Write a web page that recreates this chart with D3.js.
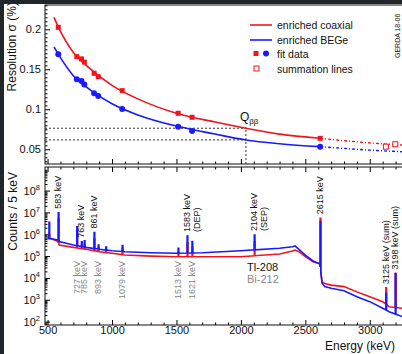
<!DOCTYPE html>
<html>
<head>
<meta charset="utf-8">
<script src="https://cdn.jsdelivr.net/npm/d3@7"></script>
<style>
  body { margin: 0; background: #fff; }
  svg { display: block; font-family: "Liberation Sans", Arial, sans-serif; }
</style>
</head>
<body>
<div id="chart"></div>
<script>
// resolution fit points (energy keV, sigma %)
const fitEnergies = [583, 727, 763, 785, 861, 893, 1079, 1513, 1621, 2615];
const coaxRes = [0.2025, 0.1658, 0.163, 0.159, 0.145, 0.1408, 0.1233, 0.095, 0.090, 0.0637];
const begeRes = [0.1688, 0.1375, 0.1354, 0.131, 0.12, 0.1166, 0.1004, 0.0783, 0.0729, 0.0533];
const sumEnergies = [3125, 3198];
const sumRes = [0.0533, 0.0563];

// fit curves
const curveE = [550, 583, 700, 800, 1000, 1200, 1500, 1800, 2039, 2300, 2615];
const coaxCurve = [0.215, 0.203, 0.171, 0.155, 0.130, 0.113, 0.095, 0.084, 0.0763, 0.069, 0.0637];
const begeCurve = [0.178, 0.169, 0.142, 0.128, 0.107, 0.093, 0.079, 0.069, 0.0617, 0.057, 0.0533];
const extE = [2615, 3000, 3250];
const coaxExt = [0.0637, 0.058, 0.0553];
const begeExt = [0.0533, 0.049, 0.047];
const qbb = 2039;

// calibration spectrum continuum (counts / 5 keV)
const contE = [500, 580, 590, 700, 800, 900, 1000, 1100, 1300, 1500, 1700, 2000, 2300, 2400, 2420, 2450, 2500, 2560, 2600, 2612, 2630, 2650, 2700, 2800, 2900, 3000, 3100, 3150, 3250];
const begeCont = [6.5e5, 5.5e5, 4.6e5, 3.2e5, 2.5e5, 2.05e5, 1.77e5, 1.59e5, 1.43e5, 1.34e5, 1.43e5, 1.77e5, 2.28e5, 2.7e5, 2.9e5, 2.05e5, 1.12e5, 6.0e4, 4.7e4, 4.5e4, 5.7e3, 4.0e3, 3.35e3, 2.6e3, 1.38e3, 820, 410, 285, 170];
const coaxCont = [7.5e5, 4.6e5, 3.2e5, 2.5e5, 2.05e5, 1.59e5, 1.34e5, 1.12e5, 1.0e5, 9.4e4, 9.4e4, 9.4e4, 1.25e5, 1.7e5, 1.9e5, 1.59e5, 9.4e4, 5.5e4, 4.7e4, 4.5e4, 6.7e3, 5.5e3, 4.7e3, 4.0e3, 2.3e3, 1.38e3, 820, 480, 410];

// peaks: energy, top counts
const peakE = [511, 583, 727, 763, 785, 861, 893, 952, 1079, 1513, 1583, 1621, 2104, 2615, 3125, 3198];
const begePeak = [3.5e6, 9.7e6, 2.2e6, 4.5e5, 5e5, 1.2e6, 3.2e5, 2.6e5, 3.0e5, 2.3e5, 8.3e5, 4.6e5, 9.2e5, 3.8e6, 2.0e3, 1.6e4];
const coaxPeak = [1.0e6, 5e6, 1.2e6, 3e5, 3.2e5, 6e5, 2.4e5, 1.9e5, 2.2e5, 1.5e5, 4e5, 2.5e5, 4.5e5, 5.4e6, 3.5e3, 1.6e4];

// peak labels
const tlLabels = [["583 keV"], ["763 keV"], ["861 keV"], ["1583 keV", "(DEP)"], ["2104 keV", "(SEP)"], ["2615 keV"], ["3125 keV (sum)"], ["3198 keV (sum)"]];
const tlEnergies = [583, 763, 861, 1583, 2104, 2615, 3125, 3198];
const biLabels = ["727 keV", "785 keV", "893 keV", "1079 keV", "1513 keV", "1621 keV"];
const biEnergies = [727, 785, 893, 1079, 1513, 1621];

const xMajor = [500, 1000, 1500, 2000, 2500, 3000];
const resTicks = [0.05, 0.1, 0.15, 0.2];
const countTicks = [1e2, 1e3, 1e4, 1e5, 1e6, 1e7, 1e8];

const W = 402, H = 354;
const RED = "#f0141e", BLUE = "#1a1aff";

const svg = d3.select("#chart").append("svg").attr("width", W).attr("height", H);

const x = d3.scaleLinear().domain([480, 3250]).range([45, 402]);
const yRes = d3.scaleLinear().domain([0.0316, 0.2304]).range([164, 5]);
const yCnt = d3.scaleLog().domain([70, 1.2e9]).range([325, 167]);

const minorX = d3.range(500, 3300, 100).filter(v => v % 500 !== 0);

// ---------- top panel ----------
const topG = svg.append("g");

topG.append("g").attr("transform", "translate(0,164)")
  .call(d3.axisBottom(x).tickValues(xMajor).tickSize(-5).tickFormat(""));
topG.append("g").attr("transform", "translate(0,164)")
  .call(d3.axisBottom(x).tickValues(minorX).tickSize(-2.5).tickFormat(""));
const minorRes = d3.range(0.035, 0.231, 0.005).filter(v => Math.abs(v * 20 - Math.round(v * 20)) > 1e-6);
topG.append("g").attr("transform", "translate(45,0)")
  .call(d3.axisLeft(yRes).tickValues(minorRes).tickSize(-2.5).tickFormat(""));
topG.append("g").attr("transform", "translate(45,0)")
  .call(d3.axisLeft(yRes).tickValues(resTicks).tickSize(-5).tickPadding(4).tickFormat(d => d3.format("~g")(d)));
topG.selectAll(".domain").remove();
topG.selectAll("text").attr("font-size", 11).attr("font-family", "Liberation Sans, Arial, sans-serif").attr("fill", "#111");

topG.append("rect").attr("x", 45).attr("y", 5).attr("width", 370).attr("height", 159)
  .attr("fill", "none").attr("stroke", "#111").attr("stroke-width", 1);

// Qbb guide lines
const qx = x(qbb);
topG.append("path")
  .attr("d", `M45,${yRes(0.0763)}H${qx}M45,${yRes(0.0617)}H${qx}M${qx},164V${yRes(0.0775)}`)
  .attr("fill", "none").attr("stroke", "#333").attr("stroke-width", 1).attr("stroke-dasharray", "2,2");
const qt = topG.append("text").attr("x", qx - 6).attr("y", 121).attr("font-size", 12).attr("fill", "#111");
qt.append("tspan").text("Q");
qt.append("tspan").attr("font-size", 8).attr("dy", 3).text("ββ");

const resLine = d3.line().x(d => x(d[0])).y(d => yRes(d[1])).curve(d3.curveMonotoneX);
topG.append("path").datum(d3.zip(curveE, coaxCurve)).attr("d", resLine)
  .attr("fill", "none").attr("stroke", RED).attr("stroke-width", 1.6);
topG.append("path").datum(d3.zip(curveE, begeCurve)).attr("d", resLine)
  .attr("fill", "none").attr("stroke", BLUE).attr("stroke-width", 1.6);
topG.append("path").datum(d3.zip(extE, coaxExt)).attr("d", resLine)
  .attr("fill", "none").attr("stroke", RED).attr("stroke-width", 1.4).attr("stroke-dasharray", "3,2,1,2");
topG.append("path").datum(d3.zip(extE, begeExt)).attr("d", resLine)
  .attr("fill", "none").attr("stroke", BLUE).attr("stroke-width", 1.4).attr("stroke-dasharray", "3,2,1,2");

topG.selectAll(".sq").data(d3.zip(fitEnergies, coaxRes)).join("rect")
  .attr("x", d => x(d[0]) - 2.5).attr("y", d => yRes(d[1]) - 2.5)
  .attr("width", 5).attr("height", 5).attr("fill", RED);
topG.selectAll(".ci").data(d3.zip(fitEnergies, begeRes)).join("circle")
  .attr("cx", d => x(d[0])).attr("cy", d => yRes(d[1])).attr("r", 3).attr("fill", BLUE);
topG.selectAll(".os").data(d3.zip(sumEnergies, sumRes)).join("rect")
  .attr("x", d => x(d[0]) - 2.5).attr("y", d => yRes(d[1]) - 2.5)
  .attr("width", 5).attr("height", 5).attr("fill", "#fff").attr("stroke", RED).attr("stroke-width", 1);

// legend
const lg = topG.append("g").attr("font-size", 10.5).attr("fill", "#111");
lg.append("line").attr("x1", 250).attr("x2", 272).attr("y1", 25).attr("y2", 25).attr("stroke", RED).attr("stroke-width", 1.6);
lg.append("line").attr("x1", 250).attr("x2", 272).attr("y1", 40).attr("y2", 40).attr("stroke", BLUE).attr("stroke-width", 1.6);
lg.append("rect").attr("x", 253.5).attr("y", 51).attr("width", 5).attr("height", 5).attr("fill", RED);
lg.append("circle").attr("cx", 266).attr("cy", 53.5).attr("r", 3).attr("fill", BLUE);
lg.append("rect").attr("x", 254).attr("y", 66).attr("width", 5).attr("height", 5).attr("fill", "#fff").attr("stroke", RED);
lg.append("text").attr("x", 277).attr("y", 29).text("enriched coaxial");
lg.append("text").attr("x", 277).attr("y", 44).text("enriched BEGe");
lg.append("text").attr("x", 277).attr("y", 57.5).text("fit data");
lg.append("text").attr("x", 277).attr("y", 72.5).text("summation lines");

svg.append("text").attr("transform", "translate(400,58) rotate(-90)").attr("font-size", 7).attr("fill", "#111").text("GERDA 18-06");
svg.append("text").attr("transform", "translate(16,2) rotate(-90)").attr("text-anchor", "end")
  .attr("font-size", 12).attr("fill", "#111").text("Resolution σ (%)");

// ---------- bottom panel ----------
const botG = svg.append("g");
botG.append("g").attr("transform", "translate(0,325)")
  .call(d3.axisBottom(x).tickValues(xMajor).tickSize(-5).tickPadding(1).tickFormat(d3.format("d")));
botG.append("g").attr("transform", "translate(0,325)")
  .call(d3.axisBottom(x).tickValues(minorX).tickSize(-2.5).tickFormat(""));
botG.append("g").attr("transform", "translate(0,167)")
  .call(d3.axisTop(x).tickValues(xMajor).tickSize(-5).tickFormat(""));
botG.append("g").attr("transform", "translate(0,167)")
  .call(d3.axisTop(x).tickValues(minorX).tickSize(-2.5).tickFormat(""));
const minorCnt = [];
for (let p = 1; p <= 9; p++) for (let m = 2; m <= 9; m++) minorCnt.push(m * Math.pow(10, p));
botG.append("g").attr("transform", "translate(45,0)")
  .call(d3.axisLeft(yCnt).tickValues(minorCnt.filter(v => v > 70 && v < 1.2e9)).tickSize(-2.5).tickFormat(""));
const ly = botG.append("g").attr("transform", "translate(45,0)")
  .call(d3.axisLeft(yCnt).tickValues(countTicks).tickSize(-5).tickFormat(""));
botG.selectAll(".domain").remove();
botG.selectAll("text").attr("font-size", 11).attr("font-family", "Liberation Sans, Arial, sans-serif").attr("fill", "#111");
ly.selectAll(".tick text").remove();

ly.selectAll(".tick").append("text")
  .attr("x", -5).attr("y", 4).attr("text-anchor", "end").attr("font-size", 11).attr("fill", "#111")
  .each(function (d) {
    const t = d3.select(this);
    t.append("tspan").text("10");
    t.append("tspan").attr("font-size", 7.5).attr("dy", -5).text(Math.round(Math.log10(d)));
  });

botG.append("rect").attr("x", 45).attr("y", 167).attr("width", 370).attr("height", 158)
  .attr("fill", "none").attr("stroke", "#111").attr("stroke-width", 1);

function spectrum(cont, peaks, color) {
  const base = d3.scaleLinear().domain(contE).range(cont.map(Math.log10));
  const pts = contE.map((e, i) => ({ e, c: cont[i] }));
  peakE.forEach((e, i) => {
    const b = Math.pow(10, base(e));
    pts.push({ e: e - 0.01, c: b }, { e: e, c: peaks[i] }, { e: e + 5, c: peaks[i] }, { e: e + 5.01, c: Math.pow(10, base(e + 5)) });
  });
  pts.sort((a, b) => a.e - b.e);
  const line = d3.line().x(d => x(d.e)).y(d => yCnt(d.c));
  botG.append("path").datum(pts).attr("d", line)
    .attr("fill", "none").attr("stroke", color).attr("stroke-width", 1.6).attr("stroke-linejoin", "miter");
}
spectrum(coaxCont, coaxPeak, RED);
spectrum(begeCont, begePeak, BLUE);

// Tl-208 labels above peaks
tlLabels.forEach((lines, i) => {
  const e = tlEnergies[i];
  const k = peakE.indexOf(e);
  const tp = yCnt(Math.max(begePeak[k], coaxPeak[k])) - 4;
  lines.forEach((s, j) => {
    botG.append("text").attr("transform", `translate(${x(e) + 3 + j * 10},${tp}) rotate(-90)`)
      .attr("font-size", 9).attr("fill", "#111").text(s);
  });
});
// Bi-212 labels below continuum
biLabels.forEach((s, i) => {
  botG.append("text").attr("transform", `translate(${x(biEnergies[i]) + 3},261) rotate(-90)`)
    .attr("text-anchor", "end").attr("font-size", 9).attr("fill", "#888").text(s);
});
botG.append("text").attr("x", 247).attr("y", 271).attr("font-size", 11).attr("fill", "#111").text("Tl-208");
botG.append("text").attr("x", 247).attr("y", 283).attr("font-size", 11).attr("fill", "#888").text("Bi-212");

svg.append("text").attr("transform", "translate(17,172) rotate(-90)").attr("text-anchor", "end")
  .attr("font-size", 12).attr("fill", "#111").text("Counts / 5 keV");
svg.append("text").attr("x", 395).attr("y", 350).attr("text-anchor", "end")
  .attr("font-size", 12).attr("fill", "#111").text("Energy (keV)");

// dark screen edges
svg.append("rect").attr("x", 0).attr("y", 0).attr("width", W).attr("height", 4).attr("fill", "#20262a");
svg.append("rect").attr("x", 0).attr("y", 0).attr("width", 4).attr("height", H).attr("fill", "#20262a");
</script>
</body>
</html>
